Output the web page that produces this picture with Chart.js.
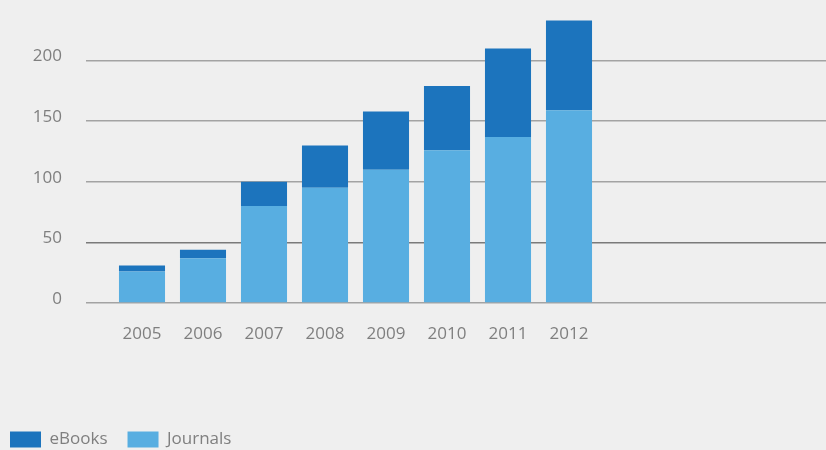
<!DOCTYPE html>
<html>
<head>
<meta charset="utf-8">
<script src="https://cdn.jsdelivr.net/npm/chart.js@4"></script>
<style>
  html, body { margin: 0; padding: 0; background: #efefef; }
  #wrap { width: 826px; height: 450px; }
</style>
</head>
<body>
<div id="wrap"><canvas id="pubs"></canvas></div>
<script>
var years = [2005, 2006, 2007, 2008, 2009, 2010, 2011, 2012];
var journals = [26, 37, 80, 95, 110, 126, 137, 159];
var ebooks = [5, 7, 20, 35, 48, 53, 73, 74];
var yTicks = [0, 50, 100, 150, 200];

var gray = '#7f7f7f';
var font = { family: "'Open Sans', sans-serif", size: 17 };

// journals first so they sit at the bottom of each stack
var pubsChart = new Chart(document.getElementById('pubs'), {
type: 'bar',
data: {
    labels: years,
    datasets: [{
        label: 'Journals',
        data: journals,
        backgroundColor: '#58aee1'
    }, {
        label: 'eBooks',
        data: ebooks,
        backgroundColor: '#1c74bd'
    }]
},
options: {
    responsive: true,
    maintainAspectRatio: false,
    animation: false,
    layout: { padding: { left: -10, top: 0, right: 0, bottom: -8 } },
    datasets: {
        bar: { categoryPercentage: 1, barPercentage: 0.755 }
    },
    scales: {
        x: {
            type: 'linear',
            stacked: true,
            offset: false,
            min: 2004.082,
            max: 2016.213,
            grid: { display: false, drawTicks: false },
            border: { display: false },
            ticks: {
                stepSize: 1,
                includeBounds: false,
                autoSkip: false,
                maxRotation: 0,
                padding: 21,
                color: gray,
                font: font,
                callback: function (v) { return years.indexOf(v) >= 0 ? String(v) : null; }
            },
            afterFit: function (axis) {
                axis.height = 108;
                axis.paddingLeft = 0;
                axis.paddingRight = 0;
            }
        },
        y: {
            stacked: true,
            min: 0,
            max: 250,
            border: { display: false },
            grid: {
                drawTicks: false,
                lineWidth: 1.5,
                color: function (ctx) { return ctx.tick && ctx.tick.value === 50 ? '#7a7a7a' : '#a3a3a3'; }
            },
            ticks: {
                stepSize: 50,
                padding: 24,
                labelOffset: -4,
                color: gray,
                font: font,
                callback: function (v) { return yTicks.indexOf(v) >= 0 ? String(v) : null; }
            },
            afterFit: function (axis) {
                axis.width = 96;
                axis.paddingTop = 0;
                axis.paddingBottom = 0;
            }
        }
    },
    plugins: {
        legend: {
            display: true,
            position: 'bottom',
            align: 'start',
            reverse: true,
            labels: {
                boxWidth: 31,
                boxHeight: 16,
                padding: 20,
                color: gray,
                font: font
            }
        },
        tooltip: { enabled: false }
    }
}
});
</script>
</body>
</html>
